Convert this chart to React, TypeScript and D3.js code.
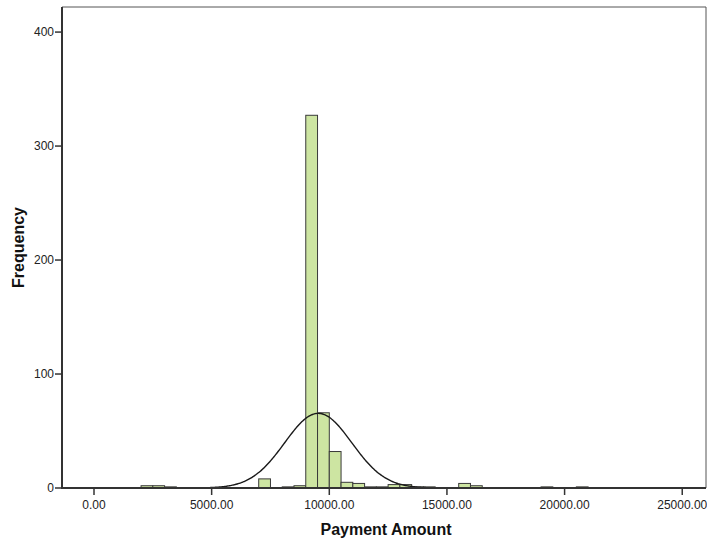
import React from "react";
import * as d3 from "d3";

const binStarts = [2000, 2500, 3000, 7000, 8000, 8500, 9000, 9500, 10000, 10500, 11000, 11500, 12000, 12500, 13000, 13500, 14000, 15500, 16000, 19000, 20500];
const counts = [2, 2, 1, 8, 1, 2, 327, 66, 32, 5, 4, 1, 1, 3, 3, 1, 1, 4, 2, 1, 1];
const binWidth = 500;
const xTicks = [0, 5000, 10000, 15000, 20000, 25000];
const yTicks = [0, 100, 200, 300, 400];
const fitMean = 9530;
const fitSd = 1425;

const W = 707;
const H = 541;
const left = 62;
const right = 706;
const top = 7;
const bottom = 488;

export default function App() {
  const x = d3.scaleLinear().domain([-1360, 26010]).range([left, right]);
  const y = d3.scaleLinear().domain([0, 422]).range([bottom, top]);
  const N = d3.sum(counts);
  const pdf = (v: number) =>
    (N * binWidth) / (fitSd * Math.sqrt(2 * Math.PI)) *
    Math.exp(-0.5 * ((v - fitMean) / fitSd) ** 2);
  const pts = d3.range(-1360, 26010, 40).map((v) => [v, pdf(v)] as [number, number]);
  const line = d3
    .line<[number, number]>()
    .x((d) => x(d[0]))
    .y((d) => y(d[1]))
    .curve(d3.curveBasis);

  const font = "'Liberation Sans', Arial, sans-serif";
  return (
    <svg
      width={W}
      height={H}
      style={{ position: "absolute", left: 0, top: 0, background: "#fff" }}
      fontFamily={font}
    >
      <defs>
        <clipPath id="plot">
          <rect x={left} y={top} width={right - left} height={bottom - top} />
        </clipPath>
      </defs>
      <rect x={0} y={0} width={W} height={H} fill="#fff" />
      {/* frame */}
      <line x1={left} y1={top} x2={right} y2={top} stroke="#555" strokeWidth={1} />
      <line x1={right} y1={top} x2={right} y2={bottom} stroke="#555" strokeWidth={1} />
      {/* bars */}
      <g>
        {binStarts.map((b, i) => (
          <rect
            key={i}
            x={x(b)}
            y={y(counts[i])}
            width={x(b + binWidth) - x(b)}
            height={y(0) - y(counts[i])}
            fill="#cde5a2"
            stroke="#3a3a3a"
            strokeWidth={1}
          />
        ))}
      </g>
      {/* normal curve */}
      <path
        d={line(pts) || ""}
        fill="none"
        stroke="#1a1a1a"
        strokeWidth={1.4}
        clipPath="url(#plot)"
      />
      {/* axes */}
      <line x1={left} y1={top} x2={left} y2={bottom + 1} stroke="#333" strokeWidth={2} />
      <line x1={left} y1={bottom} x2={right} y2={bottom} stroke="#333" strokeWidth={2} />
      {yTicks.map((t) => (
        <g key={t}>
          <line x1={left - 7} x2={left} y1={y(t)} y2={y(t)} stroke="#333" strokeWidth={1.5} />
          <text x={left - 8} y={y(t) + 4} textAnchor="end" fontSize={12} fill="#222">
            {t}
          </text>
        </g>
      ))}
      {xTicks.map((t) => (
        <g key={t}>
          <line x1={x(t)} x2={x(t)} y1={bottom} y2={bottom + 7} stroke="#333" strokeWidth={1.5} />
          <text x={x(t)} y={bottom + 21} textAnchor="middle" fontSize={12} fill="#222">
            {t.toFixed(2)}
          </text>
        </g>
      ))}
      <text
        x={(left + right) / 2 + 2}
        y={535}
        textAnchor="middle"
        fontSize={16}
        fontWeight="bold"
        fill="#111"
      >
        Payment Amount
      </text>
      <text
        transform={`translate(24, ${(top + bottom) / 2}) rotate(-90)`}
        textAnchor="middle"
        fontSize={16}
        fontWeight="bold"
        fill="#111"
      >
        Frequency
      </text>
    </svg>
  );
}
